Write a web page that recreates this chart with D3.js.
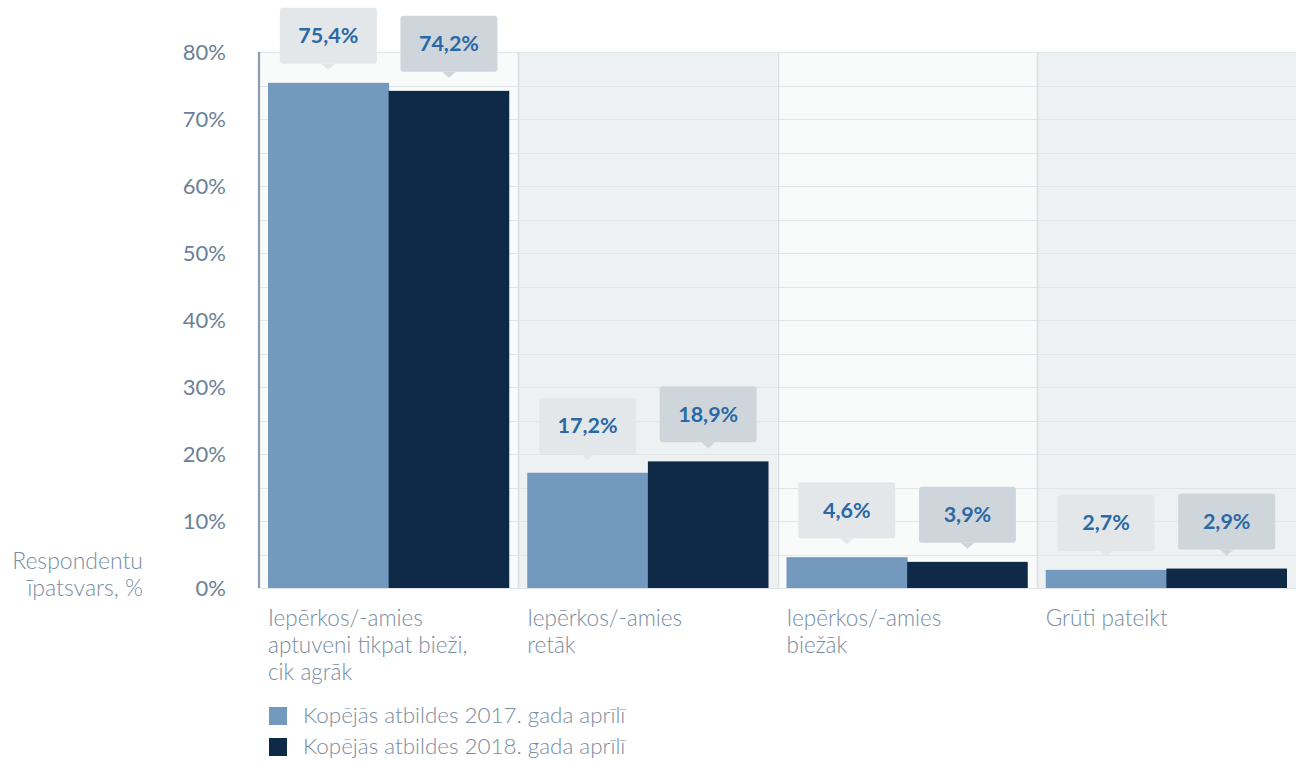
<!DOCTYPE html>
<html>
<head>
<meta charset="utf-8">
<script src="https://cdn.jsdelivr.net/npm/d3@7"></script>
<style>
  html, body { margin: 0; padding: 0; background: #ffffff; }
  svg { display: block; }
</style>
</head>
<body>
<svg id="chart" width="1296" height="762"></svg>
<script>
// Category labels (each line of a wrapped label is its own entry)
const categories = [
  ["Iepērkos/-amies", "aptuveni tikpat bieži,", "cik agrāk"],
  ["Iepērkos/-amies", "retāk"],
  ["Iepērkos/-amies", "biežāk"],
  ["Grūti pateikt"]
];
const seriesNames = ["Kopējās atbildes 2017. gada aprīlī", "Kopējās atbildes 2018. gada aprīlī"];
const values2017 = [75.4, 17.2, 4.6, 2.7];
const values2018 = [74.2, 18.9, 3.9, 2.9];
const yTicks = [0, 10, 20, 30, 40, 50, 60, 70, 80];
const gridSteps = [0, 5, 10, 15, 20, 25, 30, 35, 40, 45, 50, 55, 60, 65, 70, 75, 80];
const axisTitle = ["Respondentu", "īpatsvars, %"];

const barColors = ["#7399be", "#0f2a47"];
const boxColors = ["#e3e7ea", "#cfd6db"];
const bandColors = ["#f9fafa", "#eef1f2"];

const svg = d3.select("#chart");
const fontFamily = "Lato, 'Open Sans', sans-serif";

const catKeys = categories.map((c, i) => "c" + i);
const x = d3.scaleBand().domain(catKeys).range([259, 1296]).paddingInner(0).paddingOuter(0);
const xs = d3.scaleBand().domain([0, 1]).range([9, x.bandwidth() - 9]).padding(0);
const y = d3.scaleLinear().domain([0, 80]).range([588, 52]);

const fmt = v => d3.format(".1f")(v).replace(".", ",") + "%";

// Alternating background bands per category
svg.append("g").selectAll("rect").data(catKeys).join("rect")
  .attr("x", d => x(d)).attr("y", y(80))
  .attr("width", x.bandwidth()).attr("height", y(0) - y(80))
  .attr("fill", (d, i) => bandColors[i % 2]);

// Horizontal gridlines
svg.append("g").selectAll("line").data(gridSteps).join("line")
  .attr("x1", x.range()[0]).attr("x2", x.range()[1])
  .attr("y1", d => Math.round(y(d)) + 0.5).attr("y2", d => Math.round(y(d)) + 0.5)
  .attr("stroke", "#e2e5e7").attr("stroke-width", 1.2);

// Vertical separators between categories
svg.append("g").selectAll("line").data(catKeys.slice(1)).join("line")
  .attr("x1", d => Math.round(x(d)) + 0.5).attr("x2", d => Math.round(x(d)) + 0.5)
  .attr("y1", y(80)).attr("y2", y(0))
  .attr("stroke", "#dcdfe1").attr("stroke-width", 1.5);

// Bars
const series = [values2017, values2018];
const barG = svg.append("g");
series.forEach((vals, si) => {
  barG.selectAll(null).data(vals).join("rect")
    .attr("x", (d, i) => x(catKeys[i]) + xs(si))
    .attr("y", d => y(d))
    .attr("width", xs.bandwidth() + (si === 0 ? 0.5 : 0))
    .attr("height", d => y(0) - y(d))
    .attr("fill", barColors[si]);
});

// Left axis line
svg.append("line")
  .attr("x1", 259).attr("x2", 259).attr("y1", y(80)).attr("y2", y(0))
  .attr("stroke", "#8d9bb0").attr("stroke-width", 2.2);

// Y tick labels
svg.append("g").selectAll("text").data(yTicks).join("text")
  .attr("x", 226).attr("y", d => y(d))
  .attr("dy", "0.35em")
  .attr("text-anchor", "end")
  .attr("font-family", fontFamily).attr("font-weight", 400)
  .attr("font-size", 22).attr("fill", "#6b8197")
  .text(d => d + "%");

// Axis title
svg.append("text")
  .attr("x", 143).attr("y", 569)
  .attr("text-anchor", "end")
  .attr("font-family", fontFamily).attr("font-weight", 300)
  .attr("font-size", 23).attr("fill", "#7a8da2")
  .selectAll("tspan").data(axisTitle).join("tspan")
  .attr("x", 143).attr("dy", (d, i) => i === 0 ? 0 : 27)
  .text(d => d);

// Value callouts above bars
const boxW = 97, boxH = 56, gap = 19, tip = 6;
series.forEach((vals, si) => {
  const g = svg.append("g");
  vals.forEach((v, i) => {
    const cx = x(catKeys[i]) + xs(si) + xs.bandwidth() / 2;
    const bottom = y(v) - gap;
    const top = bottom - boxH;
    g.append("rect")
      .attr("x", cx - boxW / 2).attr("y", top)
      .attr("width", boxW).attr("height", boxH)
      .attr("rx", 3).attr("fill", boxColors[si]);
    g.append("path")
      .attr("d", `M${cx - 7},${bottom} L${cx},${bottom + tip} L${cx + 7},${bottom} Z`)
      .attr("fill", boxColors[si]);
    g.append("text")
      .attr("x", cx).attr("y", top + boxH / 2)
      .attr("dy", "0.35em")
      .attr("text-anchor", "middle")
      .attr("font-family", fontFamily).attr("font-weight", 700)
      .attr("font-size", 21.5).attr("fill", "#2a69a5")
      .text(fmt(v));
  });
});

// Category labels
const catG = svg.append("g");
categories.forEach((lines, i) => {
  catG.append("text")
    .attr("x", x(catKeys[i]) + 9).attr("y", 626)
    .attr("font-family", fontFamily).attr("font-weight", 300)
    .attr("font-size", 22.5).attr("fill", "#7a8ca0")
    .selectAll("tspan").data(lines).join("tspan")
    .attr("x", x(catKeys[i]) + 9).attr("dy", (d, j) => j === 0 ? 0 : 27)
    .text(d => d);
});

// Legend
const legend = svg.append("g");
seriesNames.forEach((name, i) => {
  legend.append("rect")
    .attr("x", 269).attr("y", 707 + i * 31)
    .attr("width", 18).attr("height", 18)
    .attr("fill", barColors[i]);
  legend.append("text")
    .attr("x", 303).attr("y", 723 + i * 31)
    .attr("font-family", fontFamily).attr("font-weight", 300)
    .attr("font-size", 22.4).attr("fill", "#7a8ca0")
    .text(name);
});
</script>
</body>
</html>
